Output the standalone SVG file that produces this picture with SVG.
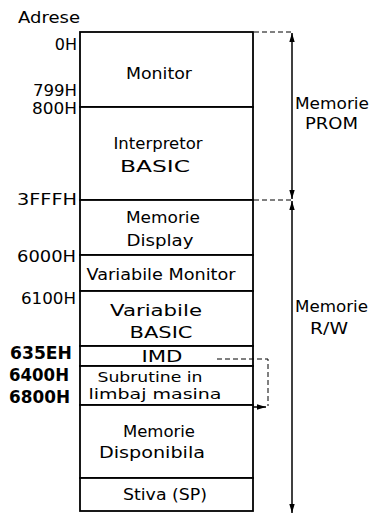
<svg xmlns="http://www.w3.org/2000/svg" width="370" height="515" viewBox="0 0 370 515">
<defs>
<style>
.t{font-family:"DejaVu Sans","Liberation Sans",sans-serif;font-size:16px;fill:#000}
.a{text-anchor:end}
.b{font-size:17px;font-weight:bold}
.c{text-anchor:middle}
.s{font-size:14px}
.box{fill:#fff;stroke:#000;stroke-width:1.8}
.ln{stroke:#000;stroke-width:1.5;fill:none}
.d{stroke:#000;stroke-width:1;fill:none;stroke-dasharray:5,3}
</style>
<marker id="ah" viewBox="0 0 10 10" refX="10" refY="5" markerWidth="6" markerHeight="7" orient="auto-start-reverse"><path d="M0,2 L10,5 L0,8 z" fill="#000"/></marker>
</defs>
<rect width="370" height="515" fill="#fff"/>
<g id="labels">
<text class="t" x="18" y="23" textLength="62" lengthAdjust="spacingAndGlyphs">Adrese</text>
<text class="t a" x="77" y="50">0H</text>
<text class="t a" x="77" y="96" textLength="44" lengthAdjust="spacingAndGlyphs">799H</text>
<text class="t a" x="77" y="114" textLength="45" lengthAdjust="spacingAndGlyphs">800H</text>
<text class="t a" x="77" y="205" textLength="60" lengthAdjust="spacingAndGlyphs">3FFFH</text>
<text class="t a" x="76" y="262" textLength="59" lengthAdjust="spacingAndGlyphs">6000H</text>
<text class="t a" x="76" y="304" textLength="55" lengthAdjust="spacingAndGlyphs">6100H</text>
<text class="t a b" x="72" y="359" textLength="62" lengthAdjust="spacingAndGlyphs">635EH</text>
<text class="t a b" x="69" y="381" textLength="60" lengthAdjust="spacingAndGlyphs">6400H</text>
<text class="t a b" x="70" y="403" textLength="61" lengthAdjust="spacingAndGlyphs">6800H</text>
</g>
<g id="monitor"><rect class="box" x="80" y="32" width="173" height="75"/><text class="t c" x="159" y="79" textLength="66" lengthAdjust="spacingAndGlyphs">Monitor</text></g>
<g id="interpretor"><rect class="box" x="80" y="107" width="173" height="93"/><text class="t c" x="158" y="149" textLength="89" lengthAdjust="spacingAndGlyphs">Interpretor</text><text class="t c" x="155" y="172" textLength="70" lengthAdjust="spacingAndGlyphs">BASIC</text></g>
<g id="display"><rect class="box" x="80" y="200" width="173" height="55"/><text class="t c" x="163" y="223" textLength="74" lengthAdjust="spacingAndGlyphs">Memorie</text><text class="t c" x="160" y="246" textLength="67" lengthAdjust="spacingAndGlyphs">Display</text></g>
<g id="varmon"><rect class="box" x="80" y="255" width="173" height="36"/><text class="t c" x="161" y="280" textLength="149" lengthAdjust="spacingAndGlyphs">Variabile Monitor</text></g>
<g id="varbasic"><rect class="box" x="80" y="291" width="173" height="55"/><text class="t c" x="156" y="316" textLength="92" lengthAdjust="spacingAndGlyphs">Variabile</text><text class="t c" x="161" y="338" textLength="63" lengthAdjust="spacingAndGlyphs">BASIC</text></g>
<g id="imd"><rect class="box" x="80" y="346" width="173" height="20"/><text class="t c" x="162" y="362" style="font-size:15px" textLength="41" lengthAdjust="spacingAndGlyphs">IMD</text></g>
<g id="subrutine"><rect class="box" x="80" y="366" width="173" height="39"/><text class="t c s" x="150" y="382" textLength="105" lengthAdjust="spacingAndGlyphs">Subrutine in</text><text class="t c s" x="155" y="399" textLength="133" lengthAdjust="spacingAndGlyphs">limbaj masina</text></g>
<g id="disponibila"><rect class="box" x="80" y="405" width="173" height="73"/><text class="t c" x="159" y="437" textLength="72" lengthAdjust="spacingAndGlyphs">Memorie</text><text class="t c" x="152" y="458" textLength="106" lengthAdjust="spacingAndGlyphs">Disponibila</text></g>
<g id="stiva"><rect class="box" x="80" y="478" width="173" height="33"/><text class="t c" x="165" y="500" textLength="84" lengthAdjust="spacingAndGlyphs">Stiva (SP)</text></g>
<g id="ranges">
<text class="t" x="295" y="109" textLength="74" lengthAdjust="spacingAndGlyphs">Memorie</text>
<text class="t" x="305" y="129" textLength="53" lengthAdjust="spacingAndGlyphs">PROM</text>
<text class="t" x="295" y="312" textLength="73" lengthAdjust="spacingAndGlyphs">Memorie</text>
<text class="t" x="310" y="334" textLength="38" lengthAdjust="spacingAndGlyphs">R/W</text>
</g>
<g id="connectors">
<path class="d" d="M254,32 H292"/>
<path class="d" d="M254,200 H292"/>
<path class="ln" d="M292,33 V199" marker-start="url(#ah)" marker-end="url(#ah)"/>
<path class="ln" d="M292,201 V513" marker-start="url(#ah)" marker-end="url(#ah)"/>
<path class="d" d="M217,359 H268 V406"/>
<path class="ln" d="M253,407 H266" marker-end="url(#ah)"/>
</g>
</svg>
